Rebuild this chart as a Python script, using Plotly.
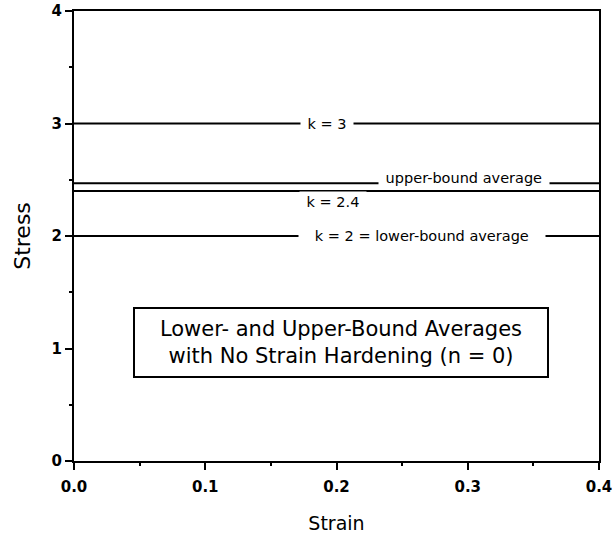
import plotly.graph_objects as go

# Constant flow-stress levels (no strain hardening)
strain = [0.0, 0.4]
level_names = ["k = 3", "upper-bound average", "k = 2.4", "k = 2 = lower-bound average"]
level_values = [3.0, 2.47, 2.4, 2.0]

# Where each label sits along its line
label_strain = [0.1924, 0.2971, 0.197, 0.2648]
label_anchor = ["middle", "middle", "top", "middle"]
label_shift = [0, 5, 0, 0]
label_pad = [1, 1, 1, 3]

box_text = "Lower- and Upper-Bound Averages<br>with No Strain Hardening (n = 0)"
box_strain, box_stress = 0.2034, 1.053

FONT = "DejaVu Sans, Verdana, sans-serif"

fig = go.Figure()
for name, s in zip(level_names, level_values):
    fig.add_trace(go.Scatter(
        x=strain, y=[s, s], mode="lines",
        line=dict(color="black", width=2),
        name=name, showlegend=False, hoverinfo="skip",
    ))

nb = "\u00a0"
for name, s, x, anc, sh, pad in zip(level_names, level_values, label_strain,
                                    label_anchor, label_shift, label_pad):
    fig.add_annotation(
        x=x, y=s, xref="x", yref="y",
        text=nb * pad + name + nb * pad,
        showarrow=False, bgcolor="white",
        yanchor=anc, xanchor="center",
        borderpad=2, yshift=sh,
        font=dict(family=FONT, size=14.5, color="black"),
    )

fig.add_annotation(
    x=box_strain, y=box_stress, xref="x", yref="y",
    text=box_text,
    showarrow=False, bgcolor="white",
    bordercolor="black", borderwidth=2, borderpad=6,
    width=400, height=55,
    font=dict(family=FONT, size=21, color="black"),
    align="center",
)

axis_common = dict(
    showgrid=False, zeroline=False, automargin=False,
    showline=True, linecolor="black", linewidth=2, mirror=True,
    ticks="outside", ticklen=7, tickwidth=2, tickcolor="black",
    tickfont=dict(family=FONT, size=15, color="black", weight="bold"),
    minor=dict(ticks="outside", ticklen=3, tickwidth=2, tickcolor="black"),
)

fig.update_xaxes(
    range=[0, 0.4], tickvals=[0, 0.1, 0.2, 0.3, 0.4],
    ticktext=["0.0", "0.1", "0.2", "0.3", "0.4"],
    ticklabelstandoff=4,
    title=dict(text="Strain", font=dict(family=FONT, size=19, color="black"), standoff=22),
    **axis_common,
)
fig.update_xaxes(minor_dtick=0.05)
fig.update_yaxes(
    range=[0, 4], tickvals=[0, 1, 2, 3, 4],
    title=dict(text="Stress", font=dict(family=FONT, size=22, color="black"), standoff=15),
    **axis_common,
)
fig.update_yaxes(minor_dtick=0.5)

fig.update_layout(
    width=615, height=535,
    margin=dict(l=74, r=16, t=11, b=74),
    plot_bgcolor="white", paper_bgcolor="white",
    showlegend=False,
)

fig.write_html("out.html")
